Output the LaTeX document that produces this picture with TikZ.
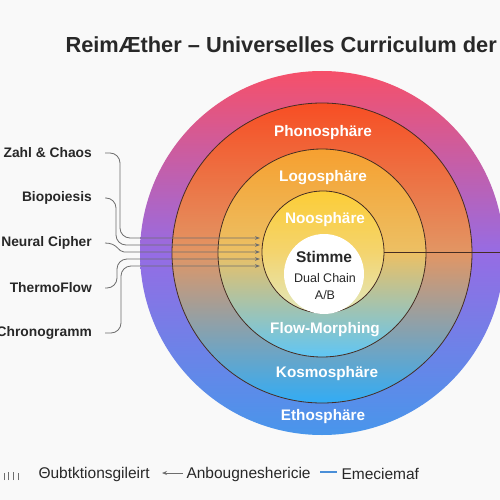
\documentclass[tikz,border=0pt]{standalone}
\usepackage{fontspec}
\setmainfont{Liberation Sans}
\usetikzlibrary{arrows.meta,calc}
\definecolor{bg}{RGB}{249,249,249}
\definecolor{ink}{RGB}{40,40,40}
\definecolor{ringline}{RGB}{70,45,35}
\definecolor{conngray}{RGB}{110,110,110}
\definecolor{legblue}{RGB}{74,143,216}
\begin{document}
\begin{tikzpicture}[x=1pt,y=-1pt,
  ring/.style={circle,inner sep=0pt,outer sep=0pt},
  ringlbl/.style={text=white,font=\fontsize{15.3}{17}\selectfont\bfseries},
  leftlbl/.style={anchor=east,inner sep=0pt,text=ink,font=\fontsize{13.8}{16}\selectfont\bfseries},
  conn/.style={draw=conngray,line width=0.8pt,rounded corners=10pt},
  connarrow/.style={conn,-{Stealth[length=5pt,width=3.6pt]}},
  leglbl/.style={anchor=west,text=ink,font=\fontsize{15.5}{17}\selectfont}]
\path[use as bounding box] (0,0) rectangle (500,500);
\clip (0,0) rectangle (500,500);
\fill[bg] (0,0) rectangle (500,500);

% title
\node[anchor=west,text=ink,font=\fontsize{21.8}{24}\selectfont\bfseries] (title) at (62,45) {ReimÆther – Universelles Curriculum der};

% rings
\node[ring,minimum size=364pt,top color={rgb,255:red,246;green,80;blue,105},bottom color={rgb,255:red,72;green,150;blue,235},middle color={rgb,255:red,150;green,108;blue,228}] (outer) at (322,253) {};
\node[ring,minimum size=300pt,draw=ringline,line width=0.8pt,top color={rgb,255:red,247;green,78;blue,36},bottom color={rgb,255:red,50;green,172;blue,245},middle color={rgb,255:red,226;green,150;blue,100}] (phono) at (322,253) {};
\node[ring,minimum size=208pt,draw=ringline,line width=0.8pt,top color={rgb,255:red,246;green,160;blue,48},bottom color={rgb,255:red,95;green,198;blue,245},middle color={rgb,255:red,236;green,192;blue,100}] (logo) at (322,253) {};
\node[ring,minimum size=122pt,draw=ringline,line width=0.8pt,top color={rgb,255:red,252;green,205;blue,55},bottom color={rgb,255:red,225;green,232;blue,190},middle color={rgb,255:red,244;green,212;blue,110}] (noo) at (323,252) {};
\node[ring,minimum size=80pt,fill=white] (stimme) at (324,274) {};

% ring labels
\node[ringlbl] (l1) at (323,133) {Phonosphäre};
\node[ringlbl] (l2) at (323,178) {Logosphäre};
\node[ringlbl] (l3) at (325,220) {Noosphäre};
\node[ringlbl] (l4) at (325,330) {Flow-Morphing};
\node[ringlbl] (l5) at (327,374) {Kosmosphäre};
\node[ringlbl] (l6) at (323,417) {Ethosphäre};

% center
\node[text=ink,font=\fontsize{15.5}{17}\selectfont\bfseries] (st) at (324,257) {Stimme};
\node[text=ink,font=\fontsize{12.5}{14}\selectfont] (dc) at (325,278) {Dual Chain};
\node[text=ink,font=\fontsize{12.5}{14}\selectfont] (ab) at (325,295) {A/B};

% left labels
\node[leftlbl] (zc) at (92,153) {Zahl \& Chaos};
\node[leftlbl] (bp) at (92,198) {Biopoiesis};
\node[leftlbl] (nc) at (92,243) {Neural Cipher};
\node[leftlbl] (tf) at (92,288) {ThermoFlow};
\node[leftlbl] (cg) at (92,333) {Chronogramm};

% arrow ends
\coordinate (a1) at (260,238);
\coordinate (a2) at (260,245);
\coordinate (a3) at (260,252);
\coordinate (a4) at (260,259);
\coordinate (a5) at (260,266);
\coordinate (rend) at (505,252);

\draw[connarrow] ([xshift=13pt]zc.east) -| (120,238) -- (a1);
\draw[connarrow] ([xshift=13pt]bp.east) -| (116,245) -- (a2);
\draw[connarrow] ([xshift=13pt]nc.east) .. controls (118,243) and (118,252) .. (134,252) -- (a3);
\draw[connarrow] ([xshift=13pt]tf.east) -| (117,259) -- (a4);
\draw[connarrow] ([xshift=13pt]cg.east) -| (121,266) -- (a5);
\draw[draw=ringline,line width=0.8pt] (noo.east) -- (rend);

% legend
\foreach \i/\x/\h in {1/4/7,2/8/8,3/13/8,4/18/7}{
  \draw[conngray,line width=0.9pt] (\x,480) -- (\x,480-\h);
}
\node[leglbl] (lg1) at (35,474) {Θubtktionsgileirt};
\coordinate (arrL) at (162,473);
\coordinate (arrR) at (183,473);
\draw[conngray,line width=0.9pt,{Stealth[length=5pt,width=4pt]}-] (arrL) -- (arrR);
\node[leglbl] (lg2) at (183,474) {Anbougneshericie};
\coordinate (blL) at (320,472);
\coordinate (blR) at (337,472);
\draw[legblue,line width=1.6pt] (blL) -- (blR);
\node[leglbl] (lg3) at (338,474) {Emeciemaf};
\end{tikzpicture}
\end{document}
